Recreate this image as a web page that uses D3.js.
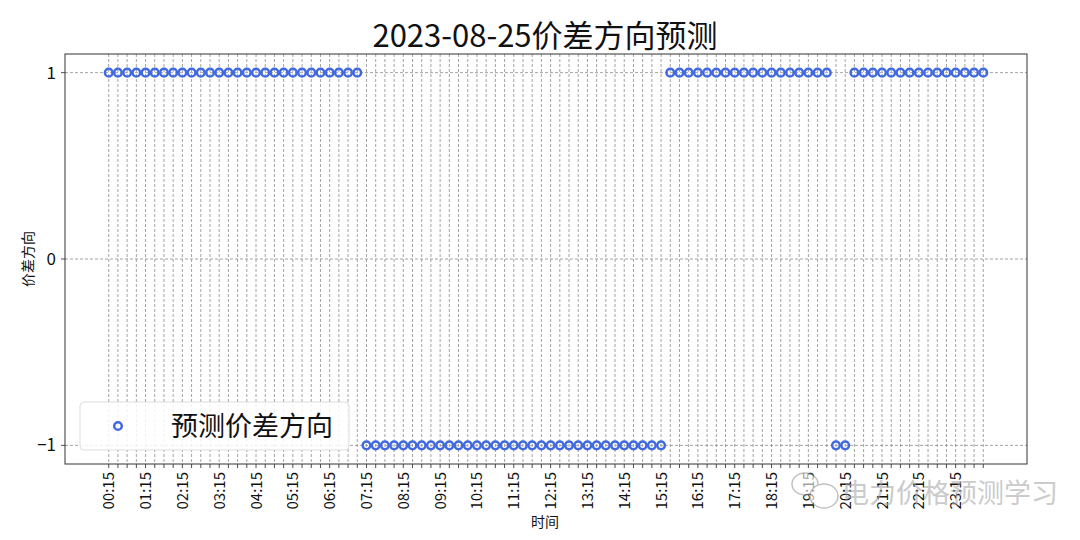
<!DOCTYPE html>
<html>
<head>
<meta charset="utf-8">
<script src="https://cdn.jsdelivr.net/npm/d3@7"></script>
<style>
body{margin:0;background:#fff;}
text{font-family:"Noto Sans CJK SC","Noto Sans",sans-serif;}
</style>
</head>
<body>
<svg id="chart" width="1080" height="540"></svg>
<script>
// time slots (15 min)
var times=["00:15","00:30","00:45","01:00","01:15","01:30","01:45","02:00","02:15","02:30","02:45","03:00",
"03:15","03:30","03:45","04:00","04:15","04:30","04:45","05:00","05:15","05:30","05:45","06:00",
"06:15","06:30","06:45","07:00","07:15","07:30","07:45","08:00","08:15","08:30","08:45","09:00",
"09:15","09:30","09:45","10:00","10:15","10:30","10:45","11:00","11:15","11:30","11:45","12:00",
"12:15","12:30","12:45","13:00","13:15","13:30","13:45","14:00","14:15","14:30","14:45","15:00",
"15:15","15:30","15:45","16:00","16:15","16:30","16:45","17:00","17:15","17:30","17:45","18:00",
"18:15","18:30","18:45","19:00","19:15","19:30","19:45","20:00","20:15","20:30","20:45","21:00",
"21:15","21:30","21:45","22:00","22:15","22:30","22:45","23:00","23:15","23:30","23:45","24:00"];
// predicted spread direction
var direction=[1,1,1,1,1,1,1,1,1,1,1,1,1,1,1,1,1,1,1,1,1,1,1,1,1,1,1,1,
-1,-1,-1,-1,-1,-1,-1,-1,-1,-1,-1,-1,-1,-1,-1,-1,-1,-1,-1,-1,-1,-1,-1,-1,-1,-1,-1,-1,-1,-1,-1,-1,-1,
1,1,1,1,1,1,1,1,1,1,1,1,1,1,1,1,1,1,
-1,-1,
1,1,1,1,1,1,1,1,1,1,1,1,1,1,1];
var tickLabels=["00:15","01:15","02:15","03:15","04:15","05:15","06:15","07:15","08:15","09:15","10:15","11:15",
"12:15","13:15","14:15","15:15","16:15","17:15","18:15","19:15","20:15","21:15","22:15","23:15"];
var yTicks=[-1,0,1];

var svg=d3.select("#chart");
var m={left:65,right:1027,top:54,bottom:464};
var blue="#4169e1";

var x=d3.scaleLinear().domain([-4.75,times.length-1+4.75]).range([m.left,m.right]);
var y=d3.scaleLinear().domain([-1.1,1.1]).range([m.bottom,m.top]);

// grid
var g=svg.append("g");
g.selectAll("line.vg").data(times).enter().append("line")
  .attr("x1",function(d,i){return x(i)}).attr("x2",function(d,i){return x(i)})
  .attr("y1",m.top).attr("y2",m.bottom)
  .attr("stroke","#8c8c8c").attr("stroke-width",0.8).attr("stroke-dasharray","3,2");
g.selectAll("line.hg").data(yTicks).enter().append("line")
  .attr("x1",m.left).attr("x2",m.right)
  .attr("y1",function(d){return y(d)}).attr("y2",function(d){return y(d)})
  .attr("stroke","#8c8c8c").attr("stroke-width",0.8).attr("stroke-dasharray","3,2");

// x axis ticks
var xa=svg.append("g").attr("transform","translate(0,"+m.bottom+")");
xa.selectAll("line").data(times).enter().append("line")
  .attr("x1",function(d,i){return x(i)}).attr("x2",function(d,i){return x(i)})
  .attr("y1",0).attr("y2",4).attr("stroke","#222").attr("stroke-width",0.8);
xa.selectAll("text").data(tickLabels).enter().append("text")
  .attr("transform",function(d){var i=times.indexOf(d);return "translate("+(x(i)+5.5)+",8) rotate(-90)"})
  .attr("text-anchor","end").attr("font-size",15).attr("fill","#111").text(function(d){return d});

// y axis
var ya=svg.append("g");
ya.selectAll("line").data(yTicks).enter().append("line")
  .attr("x1",m.left-4).attr("x2",m.left)
  .attr("y1",function(d){return y(d)}).attr("y2",function(d){return y(d)})
  .attr("stroke","#222").attr("stroke-width",0.8);
ya.selectAll("text").data(yTicks).enter().append("text")
  .attr("x",m.left-9).attr("y",function(d){return y(d)+6})
  .attr("text-anchor","end").attr("font-size",17).attr("fill","#111")
  .text(function(d){return d<0?"\u2212"+Math.abs(d):d});

// frame
svg.append("rect").attr("x",m.left).attr("y",m.top).attr("width",m.right-m.left).attr("height",m.bottom-m.top)
  .attr("fill","none").attr("stroke","#333").attr("stroke-width",1);

// points
svg.append("g").selectAll("circle").data(direction).enter().append("circle")
  .attr("cx",function(d,i){return x(i)}).attr("cy",function(d){return y(d)})
  .attr("r",3.8).attr("fill","none").attr("stroke",blue).attr("stroke-width",2.5);

// titles
svg.append("text").attr("x",545).attr("y",47).attr("text-anchor","middle")
  .attr("font-size",31).attr("fill","#111").text("2023-08-25价差方向预测");
svg.append("text").attr("x",545).attr("y",527).attr("text-anchor","middle")
  .attr("font-size",14).attr("fill","#111").text("时间");
svg.append("text").attr("transform","translate(33,259) rotate(-90)").attr("text-anchor","middle")
  .attr("font-size",14).attr("fill","#111").text("价差方向");

// legend
var lg=svg.append("g");
lg.append("rect").attr("x",80).attr("y",402).attr("width",269).attr("height",48).attr("rx",4)
  .attr("fill","#fff").attr("fill-opacity",0.85).attr("stroke","#ddd");
lg.append("circle").attr("cx",118).attr("cy",426).attr("r",3.8)
  .attr("fill","none").attr("stroke",blue).attr("stroke-width",2.5);
lg.append("text").attr("x",171).attr("y",436).attr("font-size",27).attr("fill","#111").text("预测价差方向");

// watermark
var wm=svg.append("g").attr("opacity",0.6);
wm.append("ellipse").attr("cx",805).attr("cy",484).attr("rx",13).attr("ry",11).attr("fill","#fff").attr("stroke","#999").attr("stroke-width",1.5);
wm.append("ellipse").attr("cx",824).attr("cy",496).attr("rx",14).attr("ry",12).attr("fill","#fff").attr("stroke","#999").attr("stroke-width",1.5);
wm.append("text").attr("x",842).attr("y",503).attr("font-size",27).attr("fill","#aaa").text("电力价格预测学习");
</script>
</body>
</html>
